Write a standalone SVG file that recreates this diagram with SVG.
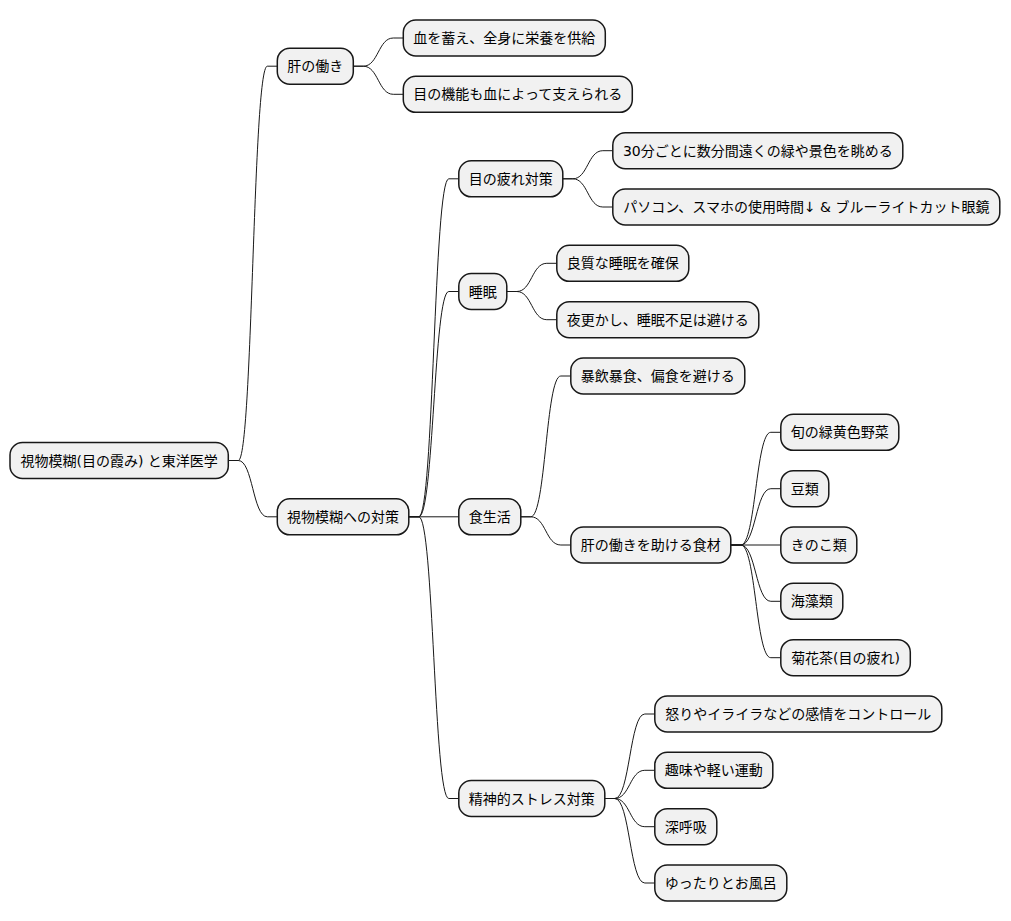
<svg xmlns="http://www.w3.org/2000/svg" width="1011" height="921" viewBox="0 0 1011 921">
<style>
.n rect{fill:#F1F1F1;stroke:#181818;stroke-width:1.5}
.n text{font-family:"DejaVu Sans","Noto Sans CJK JP",sans-serif;font-size:14px;fill:#000;text-anchor:middle}
.c path{fill:none;stroke:#181818;stroke-width:1}
</style>
<rect width="1011" height="921" fill="#FFFFFF"/>
<g id="connectors" class="c">
<path d="M228.3,460.5 H238.3 C252.8,460.5 252.8,66.2 267.3,66.2 H277.3"/>
<path d="M228.3,460.5 H238.3 C252.8,460.5 252.8,516.8 267.3,516.8 H277.3"/>
<path d="M353.3,66.2 H363.3 C378.3,66.2 378.3,38 393.3,38 H403.3"/>
<path d="M353.3,66.2 H363.3 C378.3,66.2 378.3,94.3 393.3,94.3 H403.3"/>
<path d="M408.8,516.8 H418.8 C433.8,516.8 433.8,178.8 448.8,178.8 H458.8"/>
<path d="M408.8,516.8 H418.8 C433.8,516.8 433.8,291.5 448.8,291.5 H458.8"/>
<path d="M408.8,516.8 H458.8"/>
<path d="M408.8,516.8 H418.8 C433.8,516.8 433.8,798.5 448.8,798.5 H458.8"/>
<path d="M562.8,178.8 H572.8 C587.8,178.8 587.8,150.7 602.8,150.7 H612.8"/>
<path d="M562.8,178.8 H572.8 C587.8,178.8 587.8,207 602.8,207 H612.8"/>
<path d="M506.8,291.5 H516.8 C531.8,291.5 531.8,263.3 546.8,263.3 H556.8"/>
<path d="M506.8,291.5 H516.8 C531.8,291.5 531.8,319.7 546.8,319.7 H556.8"/>
<path d="M520.8,516.8 H530.8 C545.8,516.8 545.8,376 560.8,376 H570.8"/>
<path d="M520.8,516.8 H530.8 C545.8,516.8 545.8,545 560.8,545 H570.8"/>
<path d="M730.8,545 H740.8 C755.8,545 755.8,432.3 770.8,432.3 H780.8"/>
<path d="M730.8,545 H740.8 C755.8,545 755.8,488.7 770.8,488.7 H780.8"/>
<path d="M730.8,545 H780.8"/>
<path d="M730.8,545 H740.8 C755.8,545 755.8,601.3 770.8,601.3 H780.8"/>
<path d="M730.8,545 H740.8 C755.8,545 755.8,657.7 770.8,657.7 H780.8"/>
<path d="M604.8,798.5 H614.8 C629.8,798.5 629.8,714 644.8,714 H654.8"/>
<path d="M604.8,798.5 H614.8 C629.8,798.5 629.8,770.3 644.8,770.3 H654.8"/>
<path d="M604.8,798.5 H614.8 C629.8,798.5 629.8,826.7 644.8,826.7 H654.8"/>
<path d="M604.8,798.5 H614.8 C629.8,798.5 629.8,883 644.8,883 H654.8"/>
</g>
<g id="root" class="n"><rect x="10" y="442.5" width="218.3" height="36" rx="12.5"/><text x="119.2" y="465.5">視物模糊(目の霞み) と東洋医学</text></g>
<g id="kan" class="n"><rect x="277.3" y="48.2" width="76" height="36" rx="12.5"/><text x="315.3" y="71.2">肝の働き</text></g>
<g id="kan1" class="n"><rect x="403.3" y="20" width="202" height="36" rx="12.5"/><text x="504.3" y="43">血を蓄え、全身に栄養を供給</text></g>
<g id="kan2" class="n"><rect x="403.3" y="76.3" width="229" height="36" rx="12.5"/><text x="517.8" y="99.3">目の機能も血によって支えられる</text></g>
<g id="taisaku" class="n"><rect x="277.3" y="498.8" width="131.5" height="36" rx="12.5"/><text x="343" y="521.8">視物模糊への対策</text></g>
<g id="tsukare" class="n"><rect x="458.8" y="160.8" width="104" height="36" rx="12.5"/><text x="510.8" y="183.8">目の疲れ対策</text></g>
<g id="tsukare1" class="n"><rect x="612.8" y="132.7" width="290" height="36" rx="12.5"/><text x="757.8" y="155.7">30分ごとに数分間遠くの緑や景色を眺める</text></g>
<g id="tsukare2" class="n"><rect x="612.8" y="189" width="387" height="36" rx="12.5"/><text x="806.3" y="212">パソコン、スマホの使用時間↓ &amp; ブルーライトカット眼鏡</text></g>
<g id="suimin" class="n"><rect x="458.8" y="273.5" width="48" height="36" rx="12.5"/><text x="482.8" y="296.5">睡眠</text></g>
<g id="suimin1" class="n"><rect x="556.8" y="245.3" width="132" height="36" rx="12.5"/><text x="622.8" y="268.3">良質な睡眠を確保</text></g>
<g id="suimin2" class="n"><rect x="556.8" y="301.7" width="202" height="36" rx="12.5"/><text x="657.8" y="324.7">夜更かし、睡眠不足は避ける</text></g>
<g id="shoku" class="n"><rect x="458.8" y="498.8" width="62" height="36" rx="12.5"/><text x="489.8" y="521.8">食生活</text></g>
<g id="shoku1" class="n"><rect x="570.8" y="358" width="174" height="36" rx="12.5"/><text x="657.8" y="381">暴飲暴食、偏食を避ける</text></g>
<g id="shokuzai" class="n"><rect x="570.8" y="527" width="160" height="36" rx="12.5"/><text x="650.8" y="550">肝の働きを助ける食材</text></g>
<g id="zai1" class="n"><rect x="780.8" y="414.3" width="118" height="36" rx="12.5"/><text x="839.8" y="437.3">旬の緑黄色野菜</text></g>
<g id="zai2" class="n"><rect x="780.8" y="470.7" width="48" height="36" rx="12.5"/><text x="804.8" y="493.7">豆類</text></g>
<g id="zai3" class="n"><rect x="780.8" y="527" width="76" height="36" rx="12.5"/><text x="818.8" y="550">きのこ類</text></g>
<g id="zai4" class="n"><rect x="780.8" y="583.3" width="62" height="36" rx="12.5"/><text x="811.8" y="606.3">海藻類</text></g>
<g id="zai5" class="n"><rect x="780.8" y="639.7" width="129.5" height="36" rx="12.5"/><text x="845.6" y="662.7">菊花茶(目の疲れ)</text></g>
<g id="seishin" class="n"><rect x="458.8" y="780.5" width="146" height="36" rx="12.5"/><text x="531.8" y="803.5">精神的ストレス対策</text></g>
<g id="seishin1" class="n"><rect x="654.8" y="696" width="287" height="36" rx="12.5"/><text x="798.3" y="719">怒りやイライラなどの感情をコントロール</text></g>
<g id="seishin2" class="n"><rect x="654.8" y="752.3" width="118" height="36" rx="12.5"/><text x="713.8" y="775.3">趣味や軽い運動</text></g>
<g id="seishin3" class="n"><rect x="654.8" y="808.7" width="62" height="36" rx="12.5"/><text x="685.8" y="831.7">深呼吸</text></g>
<g id="seishin4" class="n"><rect x="654.8" y="865" width="132" height="36" rx="12.5"/><text x="720.8" y="888">ゆったりとお風呂</text></g>
</svg>
